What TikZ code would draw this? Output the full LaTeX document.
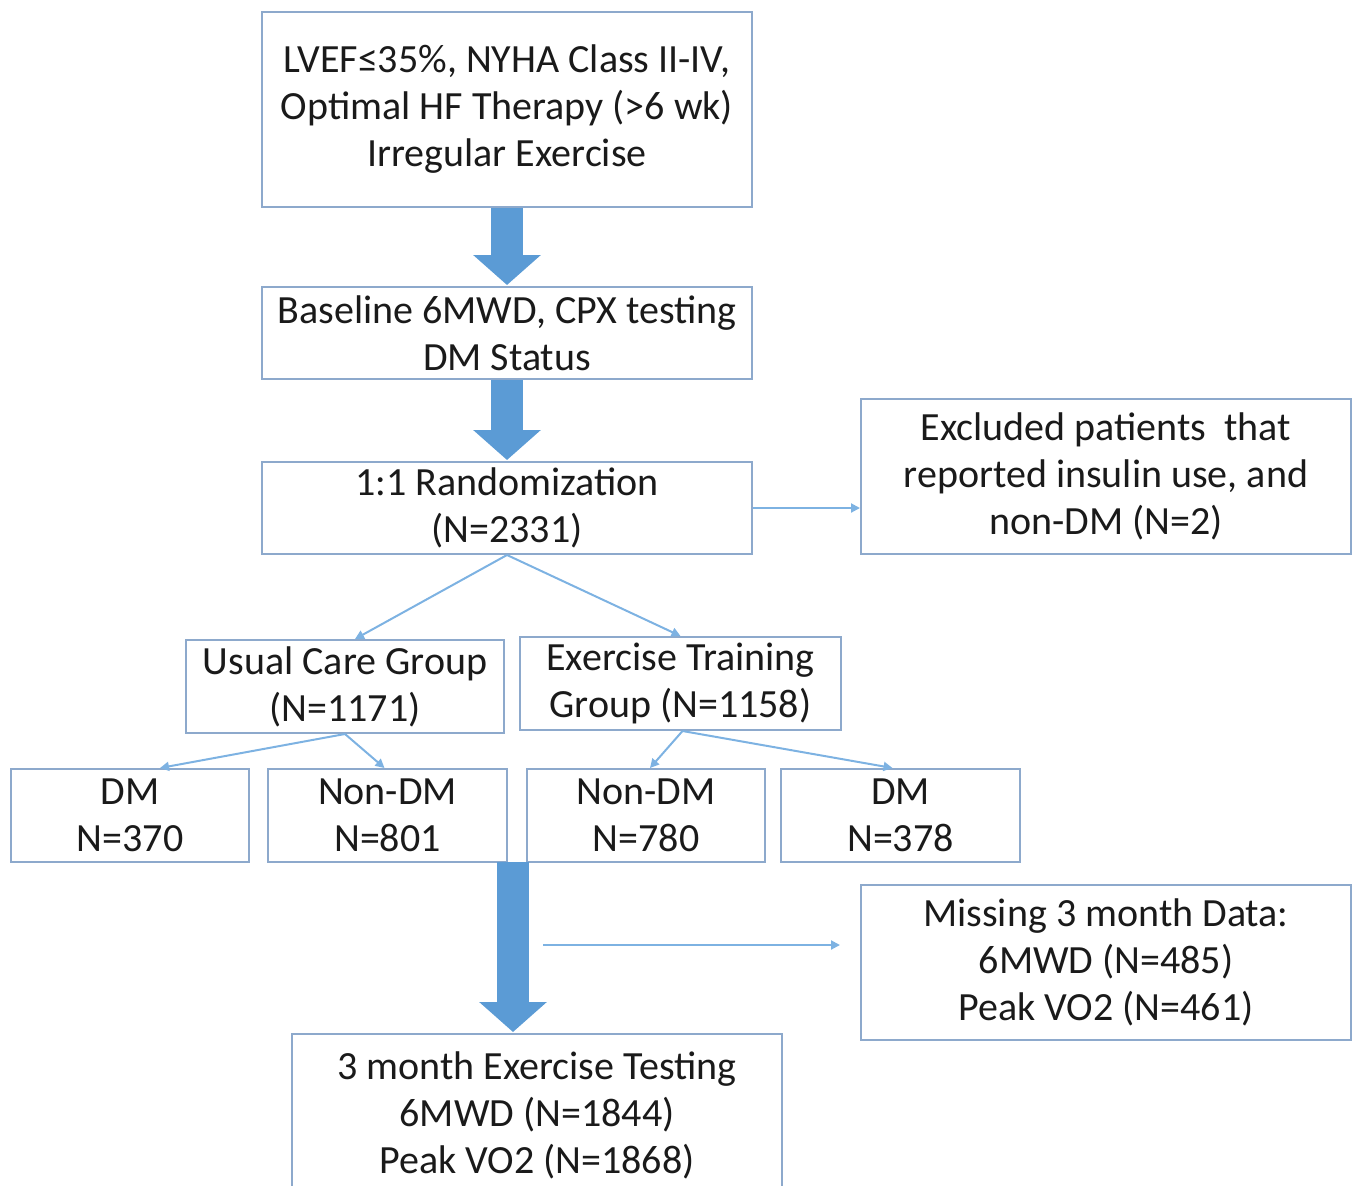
\documentclass[tikz,border=0pt]{standalone}
\usepackage{fontspec}
\setmainfont{Carlito}
\usetikzlibrary{arrows.meta,calc}
\definecolor{boxline}{HTML}{8DA9CC}
\definecolor{bigarrow}{HTML}{5B9BD5}
\definecolor{thinarrow}{HTML}{7DB2E2}
\definecolor{txt}{HTML}{1A1A1A}
\tikzset{
  box/.style={draw=boxline, line width=2pt, fill=white, inner sep=0pt, align=center,
    text=txt, font=\fontsize{40}{47}\selectfont},
  bigarr/.style={draw=bigarrow, line width=32pt, -{Triangle[width=66pt,length=30pt,fill=bigarrow]}, shorten >=1pt},
  thinarr/.style={draw=thinarrow, line width=2pt, -{Triangle[width=9pt,length=9pt]}}
}
\begin{document}
\begin{tikzpicture}[x=1pt,y=-1pt]
\useasboundingbox (0,0) rectangle (1355,1186);
\clip (0,0) rectangle (1355,1186);
\node[box, minimum width=490pt, minimum height=195pt] (b1) at (507,109.5)
  {LVEF≤35\%, NYHA Class II-IV,\\Optimal HF Therapy (>6 wk)\\Irregular Exercise};
\node[box, minimum width=490pt, minimum height=92pt] (b2) at (507,333)
  {Baseline 6MWD, CPX testing\\DM Status};
\node[box, minimum width=490pt, minimum height=92pt] (b3) at (507,508)
  {1:1 Randomization\\(N=2331)};
\node[box, minimum width=490pt, minimum height=155pt] (excl) at (1106,476.5)
  {Excluded patients\ \ that\\reported insulin use, and\\non-DM (N=2)};
\node[box, minimum width=318pt, minimum height=93pt] (usual) at (345,686.5)
  {Usual Care Group\\(N=1171)};
\node[box, minimum width=321pt, minimum height=93pt] (exer) at (680.5,683.5)
  {Exercise Training\\Group (N=1158)};
\node[box, minimum width=238pt, minimum height=93pt] (dm1) at (130,815.5)
  {DM\\N=370};
\node[box, minimum width=239pt, minimum height=93pt] (nd1) at (387.5,815.5)
  {Non-DM\\N=801};
\node[box, minimum width=238pt, minimum height=93pt] (nd2) at (646,815.5)
  {Non-DM\\N=780};
\node[box, minimum width=239pt, minimum height=93pt] (dm2) at (900.5,815.5)
  {DM\\N=378};
\node[box, minimum width=490pt, minimum height=155pt] (miss) at (1106,962.5)
  {Missing 3 month Data:\\6MWD (N=485)\\Peak VO2 (N=461)};
\node[box, minimum width=490pt, minimum height=162pt] (last) at (537,1115)
  {3 month Exercise Testing\\6MWD (N=1844)\\Peak VO2 (N=1868)};
% big arrows
\draw[bigarr] (b1.south) -- (b2.north);
\draw[bigarr] (b2.south) -- (b3.north);
\coordinate (a3) at (513,862);
\draw[bigarr] (a3) -- (a3 |- last.north);
% thin arrows
\draw[thinarr] (b3.east) -- (b3.east -| excl.west);
\draw[thinarr] (b3.south) -- ($(usual.north)+(10,0)$);
\draw[thinarr] (b3.south) -- (exer.north);
\draw[thinarr] (usual.south) -- ($(dm1.north)+(30,0)$);
\draw[thinarr] (usual.south) -- ($(nd1.north)+(-3,0)$);
\draw[thinarr] ($(exer.south)+(2,0)$) -- ($(nd2.north)+(4,0)$);
\draw[thinarr] ($(exer.south)+(2,0)$) -- ($(dm2.north)+(-8,0)$);
\coordinate (m0) at (543,945);
\coordinate (m1) at (840,945);
\draw[thinarr] (m0) -- (m1);
\end{tikzpicture}
\end{document}
